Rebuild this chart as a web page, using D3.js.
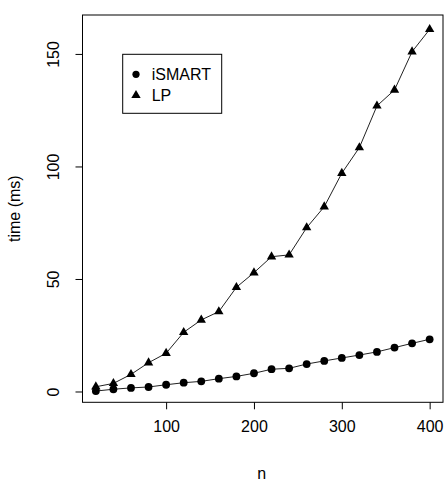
<!DOCTYPE html>
<html><head><meta charset="utf-8">
<script src="https://cdn.jsdelivr.net/npm/d3@7/dist/d3.min.js"></script>
<style>
body{margin:0;background:#fff;}
text{font-family:"Liberation Sans",Arial,sans-serif;fill:#000;}
</style></head>
<body><svg id="c" width="446" height="496"></svg>
<script>
const nValues = [20,40,60,80,100,120,140,160,180,200,220,240,260,280,300,320,340,360,380,400];
const ismartTimes = [0.2,1.0,1.6,2.0,3.0,3.9,4.5,5.7,6.7,8.1,9.9,10.3,12.2,13.6,14.9,16.2,17.6,19.5,21.4,23.2];
const lpTimes = [2.1,3.6,7.6,12.8,17.0,26.3,31.8,35.5,46.3,52.8,59.9,60.7,72.8,82.1,97.0,108.4,126.9,134.0,151.0,160.9];
const xTicks = [100,200,300,400];
const yTicks = [0,50,100,150];
const seriesNames = ["iSMART","LP"];

const svg = d3.select("#c");
const L=82.5, R=443, T=15, B=402.3;
const x = d3.scaleLinear().domain([4.8,415.2]).range([L,R]);
const y = d3.scaleLinear().domain([-4.8,167.3]).range([B,T]);

svg.append("rect").attr("x",L).attr("y",T).attr("width",R-L).attr("height",B-T)
  .attr("fill","none").attr("stroke","#000").attr("stroke-width",1);

// x axis
const xa = svg.append("g").attr("transform",`translate(0,${B})`)
  .call(d3.axisBottom(x).tickValues(xTicks).tickSize(7).tickPadding(20).tickFormat(d3.format("d")));
xa.select(".domain").remove();
xa.selectAll("text").attr("font-size",16).attr("font-family","Liberation Sans, Arial, sans-serif").attr("dy","0.2em");

// y axis
const ya = svg.append("g").attr("transform",`translate(${L},0)`)
  .call(d3.axisLeft(y).tickValues(yTicks).tickSize(7).tickFormat(d3.format("d")));
ya.select(".domain").remove();
ya.selectAll("text").remove();
ya.selectAll(".tick").append("text")
  .attr("transform","translate(-29,0) rotate(-90)")
  .attr("text-anchor","middle").attr("font-size",16).attr("dy","0.35em")
  .attr("fill","#000")
  .text(d=>d);

svg.append("text").attr("x",(L+R)/2-1).attr("y",479).attr("text-anchor","middle").attr("font-size",16).text("n");
svg.append("text").attr("transform",`translate(20,${(T+B)/2}) rotate(-90)`).attr("text-anchor","middle").attr("font-size",16).text("time (ms)");

const line = d3.line().x((d,i)=>x(nValues[i])).y(d=>y(d));
const tri = d3.symbol().type(d3.symbolTriangle).size(38);

// iSMART
svg.append("path").datum(ismartTimes).attr("d",line).attr("fill","none").attr("stroke","#222").attr("stroke-width",1);
svg.selectAll("circle.s1").data(ismartTimes).join("circle").attr("class","s1")
  .attr("cx",(d,i)=>x(nValues[i])).attr("cy",d=>y(d)).attr("r",3.9).attr("fill","#000");

// LP
svg.append("path").datum(lpTimes).attr("d",line).attr("fill","none").attr("stroke","#222").attr("stroke-width",1);
svg.selectAll("path.s2").data(lpTimes).join("path").attr("class","s2")
  .attr("transform",(d,i)=>`translate(${x(nValues[i])},${y(d)})`).attr("d",tri).attr("fill","#000");

// legend
const lg = svg.append("g");
lg.append("rect").attr("x",122.7).attr("y",54.3).attr("width",99).attr("height",59).attr("fill","#fff").attr("stroke","#000");
lg.append("circle").attr("cx",136).attr("cy",74.3).attr("r",3.6).attr("fill","#000");
lg.append("path").attr("transform","translate(136,95.3)").attr("d",tri).attr("fill","#000");
lg.append("text").attr("x",151.7).attr("y",74.3).attr("dy","0.36em").attr("font-size",16).text(seriesNames[0]);
lg.append("text").attr("x",151.7).attr("y",95.5).attr("dy","0.36em").attr("font-size",16).text(seriesNames[1]);
</script></body></html>
